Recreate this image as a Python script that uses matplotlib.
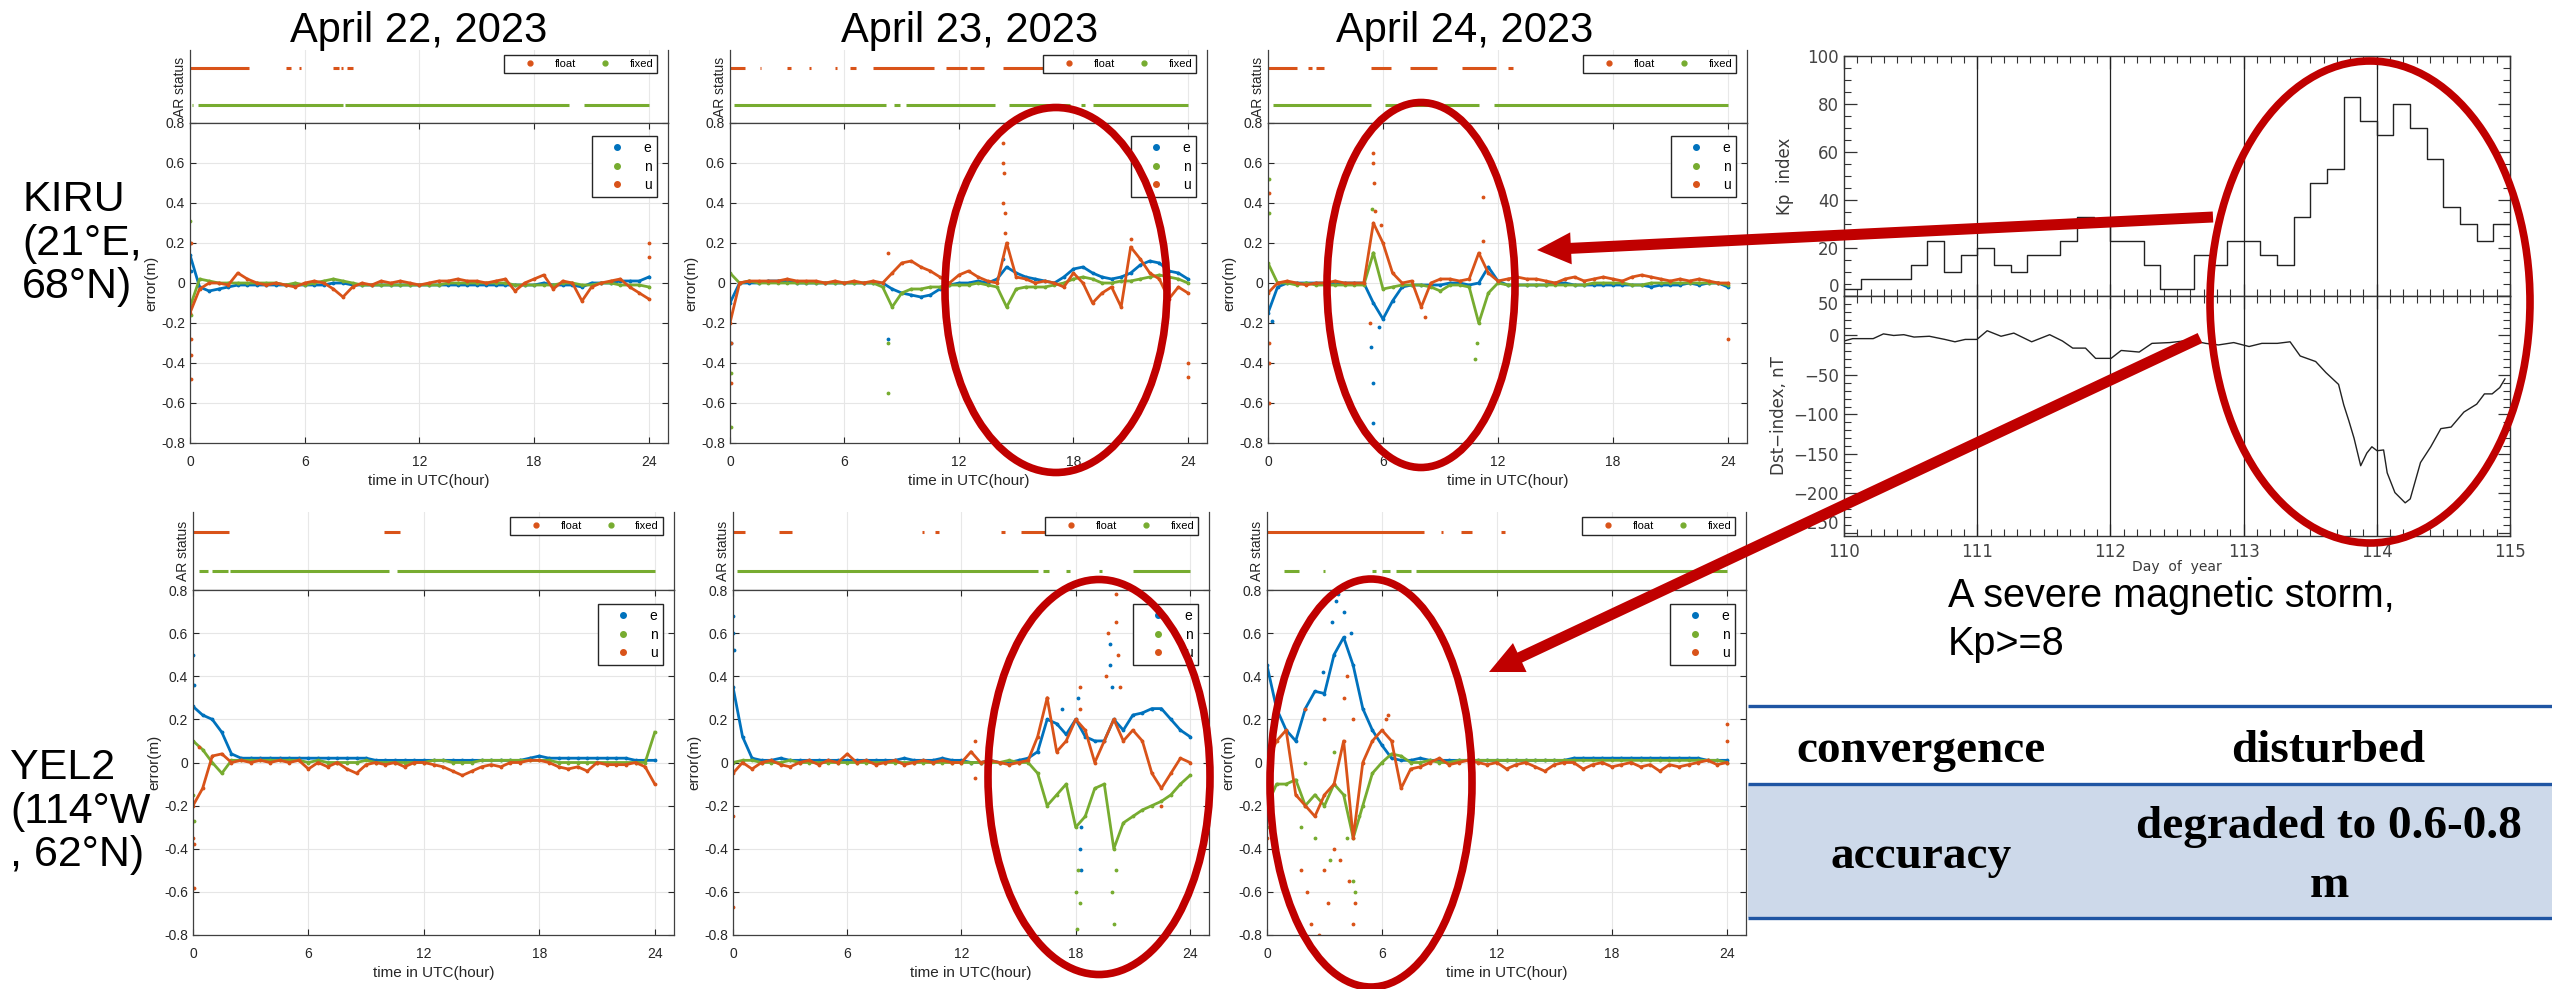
import numpy as np
import matplotlib
matplotlib.use("Agg")
import matplotlib.pyplot as plt
from matplotlib.lines import Line2D
from matplotlib.patches import Ellipse, FancyArrow, Rectangle
from matplotlib.ticker import MultipleLocator

W, H = 2552, 989
plt.rcParams['font.family'] = ['Liberation Sans', 'DejaVu Sans']
plt.rcParams['axes.unicode_minus'] = False

C_E = '#0072BD'
C_N = '#77AC30'
C_U = '#D95319'
RED = '#C00000'

hours = np.arange(0, 24.01, 0.5)   # half-hour readings, 49 values

# ---------------- KIRU, April 22 ----------------
kiru22_e = [0.14, -0.02, -0.04, -0.03, -0.02, -0.01, -0.01, -0.01, -0.01, -0.01, -0.01, -0.01,
            -0.01, -0.01, -0.01, 0.0, 0.0, -0.01, -0.01, -0.01, -0.01, -0.01, -0.01, -0.01,
            -0.01, -0.01, -0.01, -0.01, -0.01, -0.01, -0.01, -0.01, -0.01, -0.01, -0.01, -0.01,
            -0.01, 0.0, -0.01, -0.01, -0.01, -0.02, 0.0, 0.0, 0.0, 0.01, 0.01, 0.01,
            0.03]
kiru22_n = [-0.12, 0.02, 0.01, 0.0, 0.0, 0.0, 0.0, 0.0, 0.0, 0.0, -0.01, 0.0,
            -0.01, 0.0, 0.01, 0.02, 0.01, 0.0, -0.01, -0.01, -0.01, -0.01, -0.01, -0.01,
            -0.01, -0.01, -0.01, 0.0, 0.0, 0.0, 0.0, 0.0, 0.0, 0.0, -0.01, -0.01,
            -0.01, -0.01, -0.01, 0.0, 0.0, -0.01, -0.01, 0.0, 0.0, -0.01, -0.01, -0.01,
            -0.02]
kiru22_u = [-0.15, -0.03, 0.0, 0.0, -0.01, 0.05, 0.02, 0.0, -0.01, 0.0, -0.01, -0.02,
            0.0, 0.01, 0.0, -0.03, -0.07, -0.02, 0.0, -0.01, 0.01, 0.0, 0.01, 0.0,
            -0.01, 0.0, 0.01, 0.01, 0.02, 0.01, 0.01, 0.0, 0.01, 0.02, -0.04, 0.0,
            0.02, 0.04, -0.03, 0.01, 0.0, -0.09, -0.02, 0.0, 0.01, 0.02, -0.02, -0.05,
            -0.08]
kiru22_out = {'e': ([0.02, 0.03], [0.2, 0.06]),
              'n': ([0.02, 0.03], [0.31, -0.16]),
              'u': ([0.03, 0.04, 0.05, 0.06, 24.0, 24.0], [0.2, -0.28, -0.36, -0.48, 0.2, 0.13])}
kiru22_float = [(0, 3.1), (5.0, 5.3), (5.7, 5.8), (7.5, 7.8), (7.9, 8.0), (8.2, 8.5)]
kiru22_fixed = [(0.1, 0.15), (0.4, 8.0), (8.1, 19.8), (20.6, 24.0)]

# ---------------- KIRU, April 23 ----------------
kiru23_e = [-0.1, 0.0, 0.0, 0.0, 0.01, 0.01, 0.01, 0.0, 0.0, 0.0, 0.0, 0.0,
            0.0, 0.0, 0.0, 0.0, 0.0, -0.03, -0.05, -0.06, -0.07, -0.06, -0.03, -0.01,
            0.0, 0.0, 0.01, 0.0, 0.02, 0.08, 0.05, 0.03, 0.02, 0.01, 0.0, 0.03,
            0.07, 0.08, 0.05, 0.03, 0.02, 0.03, 0.05, 0.09, 0.11, 0.1, 0.06, 0.05,
            0.02]
kiru23_n = [0.05, 0.0, 0.01, 0.0, 0.0, 0.0, 0.0, 0.0, 0.0, 0.0, 0.0, 0.0,
            0.0, 0.0, 0.0, 0.0, -0.02, -0.12, -0.05, -0.03, -0.03, -0.02, -0.02, -0.01,
            -0.01, -0.01, 0.0, -0.01, -0.02, -0.12, -0.03, -0.02, -0.02, -0.02, -0.01, 0.0,
            0.02, 0.03, 0.02, 0.0, 0.0, 0.01, 0.01, 0.02, 0.03, 0.04, 0.03, 0.02,
            0.0]
kiru23_u = [-0.2, 0.0, 0.01, 0.01, 0.01, 0.01, 0.02, 0.01, 0.01, 0.01, 0.0, 0.01,
            0.0, 0.01, 0.0, 0.01, 0.0, 0.05, 0.1, 0.11, 0.08, 0.06, 0.03, 0.0,
            0.04, 0.06, 0.03, 0.01, 0.0, 0.2, 0.03, 0.02, 0.0, 0.01, 0.0, -0.02,
            0.05, 0.0, -0.1, -0.05, -0.02, -0.12, 0.18, 0.12, 0.05, 0.02, -0.08, -0.02,
            -0.05]
kiru23_out = {'e': ([0.03, 8.3, 14.3], [-0.3, -0.28, 0.12]),
              'n': ([0.03, 0.05, 8.3, 8.3], [-0.72, -0.45, -0.3, -0.55]),
              'u': ([14.3, 14.3, 14.35, 14.3, 14.4, 14.4, 0.03, 0.05, 24.0, 24.0, 8.3, 21.0],
                    [0.7, 0.6, 0.55, 0.4, 0.35, 0.25, -0.5, -0.3, -0.4, -0.47, 0.15, 0.22])}
kiru23_float = [(0, 0.8), (1.55, 1.65), (3.0, 3.2), (4.15, 4.25), (5.5, 5.6), (6.3, 6.6),
                (7.5, 10.7), (11.3, 12.4), (12.6, 13.3), (14.3, 16.5), (17.0, 19.5), (20.5, 22.0)]
kiru23_fixed = [(0.2, 8.2), (8.6, 8.9), (9.2, 13.9), (14.6, 17.8), (18.4, 18.6), (19.0, 24.0)]

# ---------------- KIRU, April 24 ----------------
kiru24_e = [-0.15, -0.02, 0.0, 0.0, 0.0, 0.0, 0.0, 0.0, 0.0, 0.0, 0.0, -0.1,
            -0.18, -0.09, -0.02, -0.01, -0.01, -0.01, -0.01, 0.0, 0.0, -0.01, 0.0, 0.08,
            0.01, -0.01, -0.01, -0.01, -0.01, -0.01, 0.0, 0.0, -0.01, -0.01, -0.01, -0.01,
            -0.01, -0.01, -0.01, -0.01, -0.02, -0.01, -0.01, -0.01, 0.0, -0.01, 0.0, 0.0,
            -0.02]
kiru24_n = [0.1, 0.0, 0.0, -0.01, 0.0, -0.01, -0.01, -0.01, -0.01, -0.01, -0.01, 0.15,
            -0.03, -0.02, -0.01, -0.01, -0.01, -0.02, -0.04, -0.01, -0.01, -0.02, -0.2, -0.05,
            0.0, -0.01, -0.01, -0.01, -0.01, -0.01, -0.01, -0.01, -0.01, -0.01, 0.0, 0.0,
            0.0, 0.0, -0.01, -0.01, 0.0, 0.0, 0.0, 0.0, 0.0, 0.0, 0.0, 0.0,
            -0.01]
kiru24_u = [-0.05, 0.0, 0.01, 0.0, -0.01, 0.0, 0.0, 0.01, 0.0, 0.0, 0.0, 0.3,
            0.2, 0.05, 0.0, 0.01, -0.12, 0.0, 0.02, 0.02, 0.01, 0.02, 0.15, 0.05,
            0.01, 0.02, 0.03, 0.02, 0.02, 0.01, 0.0, 0.02, 0.03, 0.01, 0.02, 0.03,
            0.02, 0.01, 0.03, 0.04, 0.03, 0.02, 0.01, 0.02, 0.01, 0.02, 0.01, 0.0,
            0.0]
kiru24_out = {'e': ([0.2, 5.4, 5.5, 5.5, 5.8], [-0.19, -0.32, -0.5, -0.7, -0.22]),
              'n': ([0.05, 0.05, 5.45, 5.5, 10.8, 10.9], [0.52, 0.35, 0.37, 0.15, -0.38, -0.3]),
              'u': ([0.05, 0.05, 0.05, 0.05, 5.5, 5.5, 5.55, 5.6, 5.9, 8.2, 11.2, 11.2, 24.0, 5.3],
                    [0.45, -0.3, -0.4, -0.6, 0.65, 0.6, 0.5, 0.36, 0.29, -0.17, 0.43, 0.21, -0.28, -0.2])}
kiru24_float = [(0, 1.5), (2.1, 2.3), (2.5, 2.9), (5.4, 6.4), (7.4, 8.8), (10.1, 11.9), (12.5, 12.8)]
kiru24_fixed = [(0.25, 5.4), (6.1, 11.0), (11.8, 24.0)]

# ---------------- YEL2, April 22 ----------------
yel22_e = [0.26, 0.22, 0.2, 0.14, 0.04, 0.02, 0.02, 0.02, 0.02, 0.02, 0.02, 0.02,
           0.02, 0.02, 0.02, 0.02, 0.02, 0.02, 0.02, 0.01, 0.01, 0.01, 0.01, 0.01,
           0.01, 0.01, 0.01, 0.01, 0.01, 0.01, 0.01, 0.01, 0.01, 0.01, 0.01, 0.02,
           0.03, 0.02, 0.02, 0.02, 0.02, 0.02, 0.02, 0.02, 0.02, 0.02, 0.01, 0.01,
           0.01]
yel22_n = [0.1, 0.06, 0.0, -0.05, 0.01, 0.01, 0.01, 0.01, 0.01, 0.01, 0.01, 0.01,
           0.0, 0.01, 0.0, 0.0, 0.0, 0.0, 0.01, 0.0, 0.0, 0.0, 0.0, 0.0,
           0.0, 0.01, 0.01, 0.0, 0.0, 0.0, 0.01, 0.01, 0.01, 0.01, 0.01, 0.01,
           0.01, 0.01, 0.0, 0.0, 0.0, 0.0, 0.0, 0.0, 0.0, 0.0, 0.0, 0.0,
           0.14]
yel22_u = [-0.2, -0.12, 0.03, 0.04, 0.0, 0.01, 0.0, 0.01, 0.0, 0.01, 0.0, 0.01,
           -0.03, 0.0, -0.02, 0.0, -0.03, -0.05, -0.01, 0.0, -0.01, 0.0, -0.02, 0.0,
           0.0, -0.01, -0.02, -0.04, -0.06, -0.04, -0.02, -0.01, -0.02, 0.0, 0.0, 0.01,
           0.01, 0.0, -0.02, -0.03, -0.02, -0.04, 0.0, -0.01, -0.01, -0.01, 0.0, -0.02,
           -0.1]
yel22_out = {'e': ([0.02, 0.03], [0.5, 0.36]),
             'n': ([0.02, 0.03], [-0.15, -0.27]),
             'u': ([0.02, 0.03, 0.03, 0.3], [-0.35, -0.38, -0.58, 0.07])}
yel22_float = [(0, 1.85), (9.95, 10.75)]
yel22_fixed = [(0.3, 0.8), (1.0, 1.8), (1.9, 10.2), (10.6, 24.0)]

# ---------------- YEL2, April 23 ----------------
yel23_e = [0.35, 0.12, 0.02, 0.01, 0.01, 0.02, 0.01, 0.01, 0.01, 0.01, 0.01, 0.01,
           0.01, 0.01, 0.01, 0.01, 0.01, 0.01, 0.02, 0.01, 0.01, 0.01, 0.02, 0.01,
           0.01, 0.0, 0.0, 0.01, 0.0, 0.0, 0.01, 0.02, 0.05, 0.2, 0.18, 0.13,
           0.2, 0.12, 0.1, 0.1, 0.2, 0.15, 0.22, 0.23, 0.25, 0.25, 0.2, 0.15,
           0.12]
yel23_n = [0.0, 0.01, 0.01, 0.0, 0.0, 0.0, 0.01, 0.0, 0.0, 0.0, 0.0, 0.0,
           0.0, 0.0, 0.0, 0.0, 0.0, 0.0, 0.0, 0.0, 0.0, 0.0, 0.0, 0.0,
           0.0, 0.0, 0.0, 0.0, 0.0, 0.01, 0.0, 0.0, -0.05, -0.2, -0.15, -0.1,
           -0.3, -0.25, -0.12, -0.1, -0.4, -0.28, -0.25, -0.22, -0.2, -0.18, -0.15, -0.1,
           -0.06]
yel23_u = [-0.05, 0.0, -0.03, 0.0, 0.01, -0.01, -0.02, 0.0, 0.01, -0.01, 0.01, 0.0,
           0.04, 0.0, 0.01, -0.01, 0.0, 0.01, -0.01, 0.0, 0.01, 0.0, 0.01, 0.0,
           0.0, 0.05, 0.0, 0.01, 0.0, -0.01, 0.0, 0.01, 0.12, 0.3, 0.05, 0.1,
           0.2, 0.15, 0.0, 0.1, 0.2, 0.1, 0.15, 0.1, -0.05, -0.12, -0.05, 0.02,
           0.0]
yel23_out = {'e': ([0.02, 0.02, 0.03, 18.2, 18.3, 18.3, 19.8, 19.8, 19.9, 18.1, 17.3],
                   [0.68, 0.6, 0.52, -0.4, -0.5, -0.3, 0.55, 0.45, 0.35, 0.3, 0.25]),
             'n': ([18.0, 18.05, 18.1, 19.9, 20.0, 20.1, 18.2], [-0.6, -0.77, -0.5, -0.6, -0.75, -0.5, -0.65]),
             'u': ([19.6, 19.7, 20.1, 20.1, 20.2, 20.3, 18.2, 18.2, 16.5, 0.02, 0.02, 12.7, 12.7, 22.5],
                   [0.4, 0.6, 0.78, 0.65, 0.5, 0.35, 0.35, 0.25, 0.3, -0.25, -0.67, 0.1, -0.07, -0.2])}
yel23_float = [(0, 0.65), (2.4, 3.1), (9.95, 10.05), (10.6, 10.8), (14.1, 14.3), (15.1, 16.4), (17.0, 22.0)]
yel23_fixed = [(0.2, 16.0), (16.3, 16.6), (17.5, 17.7), (19.2, 19.4), (21.0, 24.0)]

# ---------------- YEL2, April 24 ----------------
yel24_e = [0.45, 0.25, 0.15, 0.1, 0.25, 0.33, 0.32, 0.5, 0.58, 0.45, 0.25, 0.15,
           0.08, 0.02, 0.01, 0.01, 0.02, 0.01, 0.01, 0.01, 0.01, 0.01, 0.01, 0.01,
           0.01, 0.01, 0.01, 0.01, 0.01, 0.01, 0.01, 0.01, 0.02, 0.02, 0.02, 0.02,
           0.02, 0.02, 0.02, 0.02, 0.02, 0.02, 0.02, 0.02, 0.02, 0.02, 0.01, 0.01,
           0.01]
yel24_n = [-0.2, -0.1, -0.1, -0.08, -0.2, -0.15, -0.2, -0.1, -0.15, -0.35, -0.2, -0.05,
           0.0, 0.04, 0.03, 0.0, 0.0, 0.01, 0.0, 0.0, 0.01, 0.01, 0.01, 0.01,
           0.01, 0.01, 0.01, 0.01, 0.01, 0.01, 0.01, 0.01, 0.01, 0.01, 0.01, 0.01,
           0.01, 0.01, 0.01, 0.01, 0.01, 0.01, 0.01, 0.01, 0.01, 0.01, 0.01, 0.01,
           0.0]
yel24_u = [0.0, 0.1, 0.15, -0.15, -0.2, -0.25, -0.15, -0.1, 0.1, -0.35, 0.0, 0.1,
           0.15, 0.1, -0.12, -0.03, -0.02, 0.0, 0.02, -0.01, 0.0, 0.01, 0.0, -0.01,
           0.0, -0.03, -0.01, 0.0, -0.02, -0.04, -0.01, 0.0, 0.0, -0.03, -0.01, 0.0,
           -0.02, -0.01, 0.0, -0.02, -0.01, -0.04, -0.01, -0.02, -0.01, 0.0, 0.01, -0.01,
           0.0]
yel24_out = {'e': ([3.6, 3.7, 4.0, 3.4, 4.4, 2.9], [0.75, 0.78, 0.7, 0.65, 0.6, 0.42]),
             'n': ([0.02, 2.5, 3.3, 4.5, 4.6, 4.2, 1.8, 4.8, 2.0, 3.5],
                   [-0.3, -0.35, -0.45, -0.55, -0.6, -0.35, -0.3, -0.25, 0.0, 0.05]),
             'u': ([1.8, 2.1, 2.3, 2.7, 3.0, 3.2, 3.5, 3.8, 4.3, 4.5, 4.6, 2.0, 3.0, 4.0, 4.2, 4.5,
                    0.02, 0.05, 6.2, 6.3, 24.0, 24.0],
                   [-0.5, -0.6, -0.75, -0.8, -0.5, -0.65, -0.4, -0.45, -0.55, -0.75, -0.65, 0.25, 0.2,
                    0.3, 0.4, 0.2, -0.35, -0.25, 0.2, 0.22, 0.18, 0.1])}
yel24_float = [(0, 8.2), (9.1, 9.2), (10.1, 10.7), (12.2, 12.4)]
yel24_fixed = [(0.9, 1.65), (2.9, 3.05), (5.5, 5.7), (6.0, 6.4), (6.75, 7.5), (7.8, 24.0)]

# ---------------- Kp (3-hourly, x10) and Dst, day of year 110-115 ----------------
kp_values = [3, 7, 7, 7, 13, 23, 10, 17,
             20, 13, 10, 17, 17, 23, 33, 30,
             23, 23, 13, 3, 3, 17, 13, 23,
             23, 17, 13, 33, 47, 53, 83, 73,
             67, 80, 70, 57, 37, 30, 23, 30]
kp_days = 110 + np.arange(len(kp_values) + 1) / 8.0

dst_days = [110.0, 110.065, 110.219, 110.296, 110.373, 110.449, 110.526, 110.641, 110.757, 110.833,
            110.91, 110.998, 111.075, 111.179, 111.275, 111.409, 111.544, 111.64, 111.717, 111.813,
            111.889, 112.005, 112.081, 112.216, 112.312, 112.446, 112.6, 112.715, 112.811, 112.926,
            113.041, 113.137, 113.253, 113.349, 113.425, 113.541, 113.618, 113.713, 113.752, 113.79,
            113.829, 113.879, 113.925, 113.963, 114.002, 114.051, 114.078, 114.136, 114.213, 114.251,
            114.328, 114.405, 114.481, 114.558, 114.654, 114.75, 114.808, 114.866, 114.923, 114.962]
dst_values = [-7, -4, -4, 2, 0, 1, -2, -1, -5, -8,
              -5, -5, 6, -1, 3, -8, 1, -7, -16, -16,
              -29, -29, -19, -21, -10, -9, -6, -10, -12, -9,
              -14, -10, -10, -8, -26, -33, -47, -62, -88, -108,
              -130, -165, -149, -141, -146, -145, -174, -199, -212, -207,
              -161, -141, -118, -116, -97, -87, -74, -74, -66, -55]

titles = ['April 22, 2023', 'April 23, 2023', 'April 24, 2023']
title_x = [419, 970, 1465]
stations = ['KIRU\n(21°E,\n68°N)', 'YEL2\n(114°W\n, 62°N)']

fig = plt.figure(figsize=(W / 100, H / 100), dpi=100)


def px_axes(x0, y0, x1, y1):
    return fig.add_axes([x0 / W, 1 - y1 / H, (x1 - x0) / W, (y1 - y0) / H])


def draw_panel(xr, ar_y, err_y, e, n, u, out, floats, fixeds):
    assert len(e) == len(n) == len(u) == len(hours)
    # AR status strip
    ax_ar = px_axes(xr[0], ar_y[0], xr[1], ar_y[1])
    for a, b in floats:
        ax_ar.hlines(2, a, b, color=C_U, lw=2.2)
    for a, b in fixeds:
        ax_ar.hlines(1, a, b, color=C_N, lw=2.2)
    ax_ar.set_xlim(0, 25)
    ax_ar.set_ylim(0.5, 2.5)
    ax_ar.set_yticks([])
    ax_ar.set_xticks([0, 6, 12, 18, 24])
    ax_ar.tick_params(length=0, labelbottom=False)
    ax_ar.grid(True, axis='x', color='#e8e8e8', lw=0.8)
    ax_ar.spines['top'].set_visible(False)
    for s in ['left', 'right', 'bottom']:
        ax_ar.spines[s].set_color('#404040')
        ax_ar.spines[s].set_linewidth(0.9)
    ax_ar.set_ylabel('AR status', fontsize=10, labelpad=2, color='#262626')
    h_ar = [Line2D([], [], ls='none', marker='.', ms=7, color=C_U),
            Line2D([], [], ls='none', marker='.', ms=7, color=C_N)]
    ax_ar.legend(h_ar, ['float', 'fixed'], ncol=2, loc='upper right', bbox_to_anchor=(0.977, 0.93),
                 borderaxespad=0, fontsize=8, fancybox=False, edgecolor='#262626', framealpha=1,
                 handlelength=4.0, handletextpad=0.2, columnspacing=0.6, borderpad=0.35)

    # position error
    ax = px_axes(xr[0], err_y[0], xr[1], err_y[1])
    for comp, vals, c in [('e', e, C_E), ('n', n, C_N), ('u', u, C_U)]:
        ax.plot(hours, vals, '-', color=c, lw=2.0, marker='.', ms=3.5)
        ot, ov = out.get(comp, ([], []))
        ax.plot(ot, ov, ls='none', marker='.', ms=3.5, color=c)
    ax.set_xlim(0, 25)
    ax.set_ylim(-0.8, 0.8)
    ax.set_xticks([0, 6, 12, 18, 24])
    yt = np.round(np.arange(-0.8, 0.81, 0.2), 1)
    ax.set_yticks(yt)
    ax.set_yticklabels(['0' if v == 0 else f'{v:g}' for v in yt])
    ax.tick_params(direction='in', top=True, right=True, length=4, labelsize=10,
                   colors='#262626', width=0.8)
    ax.tick_params(axis='x', pad=9)
    ax.grid(True, color='#e6e6e6', lw=0.8)
    ax.set_axisbelow(True)
    for s in ax.spines.values():
        s.set_color('#404040')
        s.set_linewidth(0.9)
    ax.set_xlabel('time in UTC(hour)', fontsize=11, labelpad=3, color='#262626')
    ax.set_ylabel('error(m)', fontsize=11, labelpad=2, color='#262626')
    h_err = [Line2D([], [], ls='none', marker='.', ms=8, color=c) for c in (C_E, C_N, C_U)]
    ax.legend(h_err, ['e', 'n', 'u'], loc='upper right', bbox_to_anchor=(0.977, 0.96),
              borderaxespad=0, fontsize=10, fancybox=False, edgecolor='#262626', framealpha=1,
              handlelength=2.8, handletextpad=0.5, labelspacing=0.3, borderpad=0.4)


cols_r1 = [(190, 668), (730, 1207), (1268, 1747)]
cols_r2 = [(193, 674), (733, 1209), (1267, 1746)]

draw_panel(cols_r1[0], (50, 123), (123, 443), kiru22_e, kiru22_n, kiru22_u, kiru22_out, kiru22_float, kiru22_fixed)
draw_panel(cols_r1[1], (50, 123), (123, 443), kiru23_e, kiru23_n, kiru23_u, kiru23_out, kiru23_float, kiru23_fixed)
draw_panel(cols_r1[2], (50, 123), (123, 443), kiru24_e, kiru24_n, kiru24_u, kiru24_out, kiru24_float, kiru24_fixed)
draw_panel(cols_r2[0], (512, 590), (590, 935), yel22_e, yel22_n, yel22_u, yel22_out, yel22_float, yel22_fixed)
draw_panel(cols_r2[1], (512, 590), (590, 935), yel23_e, yel23_n, yel23_u, yel23_out, yel23_float, yel23_fixed)
draw_panel(cols_r2[2], (512, 590), (590, 935), yel24_e, yel24_n, yel24_u, yel24_out, yel24_float, yel24_fixed)

# ---------------- Kp / Dst panel ----------------
idl_font = dict(family='DejaVu Sans', color='#3a3a3a')
axk = px_axes(1844, 56, 2510, 296)
axd = px_axes(1844, 296, 2510, 536)
axk.plot(kp_days, kp_values + [kp_values[-1]], drawstyle='steps-post', color='#222222', lw=1.0)
axd.plot(dst_days, dst_values, color='#222222', lw=1.0)
axk.set_ylim(0, 100)
axd.set_ylim(-254, 50)
for a in (axk, axd):
    a.set_xlim(110, 115)
    a.set_xticks(range(110, 116))
    a.xaxis.set_minor_locator(MultipleLocator(0.1))
    a.tick_params(which='major', direction='in', top=True, right=True, length=9, width=0.9, colors='#333333')
    a.tick_params(which='minor', direction='in', top=True, right=True, length=5, width=0.8, colors='#333333')
    a.tick_params(labelsize=12)
    for s in a.spines.values():
        s.set_color('#333333')
        s.set_linewidth(1.0)
    for d in range(111, 115):
        a.axvline(d, color='#222222', lw=0.9)
axk.set_yticks([0, 20, 40, 60, 80, 100])
axk.set_yticklabels(['0', '20', '40', '60', '80', '100'], family='DejaVu Sans', color='#444444')
axk.get_yticklabels()[0].set_va('bottom')
axk.yaxis.set_minor_locator(MultipleLocator(5))
axk.tick_params(labelbottom=False)
axd.set_yticks([50, 0, -50, -100, -150, -200, -250])
axd.set_yticklabels(['50', '0', '\u221250', '\u2212100', '\u2212150', '\u2212200', '\u2212250'],
                    family='DejaVu Sans', color='#444444')
axd.get_yticklabels()[0].set_va('top')
axd.get_yticklabels()[-1].set_va('bottom')
axd.set_xticklabels([str(d) for d in range(110, 116)], family='DejaVu Sans', color='#444444')
axd.yaxis.set_minor_locator(MultipleLocator(10))
axd.tick_params(axis='x', pad=5)
axk.set_ylabel('Kp  index', fontsize=12, labelpad=10, **idl_font)
axd.set_ylabel('Dst\u2212index, nT', fontsize=12, labelpad=4, **idl_font)
axd.set_xlabel('Day  of  year', fontsize=10, labelpad=-1, **idl_font)

# ---------------- overlay: titles, labels, table, annotations ----------------
ov = fig.add_axes([0, 0, 1, 1])
ov.set_xlim(0, W)
ov.set_ylim(H, 0)
ov.axis('off')

for t, x in zip(titles, title_x):
    ov.text(x, 42, t, fontsize=30, ha='center', va='baseline', color='black')
ov.text(22, 180, stations[0], fontsize=31, ha='left', va='top', linespacing=1.12)
ov.text(10, 748, stations[1], fontsize=31, ha='left', va='top', linespacing=1.12)

ov.text(1948, 607, 'A severe magnetic storm,', fontsize=28.5, ha='left', va='baseline')
ov.text(1948, 655, 'Kp>=8', fontsize=28.5, ha='left', va='baseline')

# summary table
ov.add_patch(Rectangle((1748, 784), W - 1748, 134, facecolor='#CDD9EA', edgecolor='none'))
for yl in (706, 784, 918):
    ov.plot([1748, W], [yl, yl], color='#1F55A3', lw=2.4, solid_capstyle='butt')
serif = dict(family='Liberation Serif', fontweight='bold', fontsize=34, ha='center', va='baseline')
ov.text(1921, 762, 'convergence', **serif)
ov.text(2328, 762, 'disturbed', **serif)
ov.text(1921, 868, 'accuracy', **serif)
ov.text(2329, 838, 'degraded to 0.6-0.8', **serif)
ov.text(2329, 897, 'm', **serif)

# red highlight ellipses and arrows
for cx, cy, w, h in [(1056, 290, 222, 365), (1421, 285, 188, 365), (1099, 777, 222, 395),
                     (1371, 783, 202, 408), (2370, 302, 320, 482)]:
    ov.add_patch(Ellipse((cx, cy), w, h, fill=False, edgecolor=RED, lw=5.5))
for x0, y0, x1, y1 in [(2213, 217, 1537, 250), (2200, 338, 1489, 672)]:
    ov.add_patch(FancyArrow(x0, y0, x1 - x0, y1 - y0, width=11, head_width=32, head_length=34,
                            length_includes_head=True, color=RED, lw=0))

fig.savefig('out.png', dpi=100)
